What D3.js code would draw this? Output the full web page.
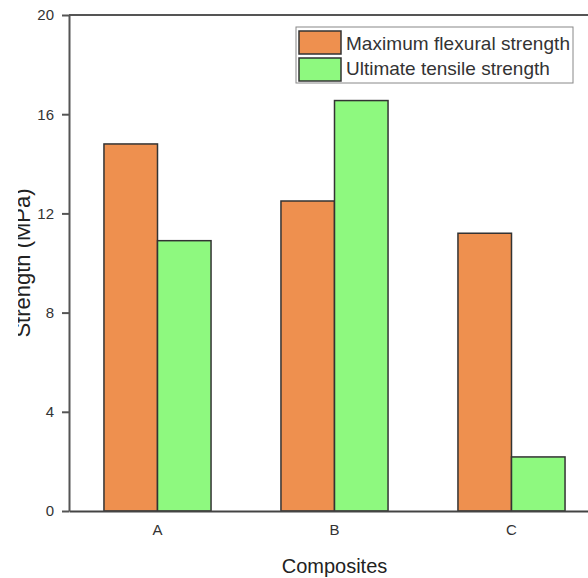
<!DOCTYPE html>
<html>
<head>
<meta charset="utf-8">
<script src="https://cdn.jsdelivr.net/npm/d3@7"></script>
<style>
  body { margin: 0; background: #fff; }
  svg { display: block; font-family: 'Liberation Sans', Arial, sans-serif; }
</style>
</head>
<body>
<div id="chart"></div>
<script>
const categories = ['A', 'B', 'C'];
const seriesNames = ['Maximum flexural strength', 'Ultimate tensile strength'];
const flexural = [14.8, 12.5, 11.2];
const tensile = [10.9, 16.55, 2.18];
const yTicks = [0, 4, 8, 12, 16, 20];
const colors = ['#ee904f', '#8ef97f'];

const width = 588;
const height = 578;
const margin = { top: 15, left: 69, bottom: 67, right: -12 };
const iwidth = width - margin.left - margin.right;
const iheight = height - margin.top - margin.bottom;
const font = "'Liberation Sans', Arial, sans-serif";

const svg = d3.select('#chart').append('svg')
  .attr('width', width)
  .attr('height', height);

// the original picture is cropped on the left, cutting the y title
svg.append('clipPath').attr('id', 'leftcut')
  .append('rect').attr('x', 18).attr('y', 0).attr('width', width).attr('height', height);

const g = svg.append('g')
  .attr('transform', `translate(${margin.left},${margin.top})`);

const x = d3.scaleBand()
  .domain(categories)
  .range([0, iwidth])
  .paddingInner(0.395)
  .paddingOuter(0.1975);

const xs = d3.scaleBand()
  .domain([0, 1])
  .range([0, x.bandwidth()]);

const y = d3.scaleLinear()
  .domain([0, 20])
  .range([iheight, 0]);

const rows = categories.map((c, i) => ({ cat: c, values: [flexural[i], tensile[i]] }));

const groups = g.selectAll('.grp').data(rows).enter().append('g')
  .attr('transform', (d) => `translate(${x(d.cat)},0)`);

groups.selectAll('rect')
  .data((d) => d.values.map((v, k) => ({ v, k })))
  .enter().append('rect')
  .attr('x', (d) => xs(d.k))
  .attr('y', (d) => y(d.v))
  .attr('width', xs.bandwidth())
  .attr('height', (d) => iheight - y(d.v))
  .style('fill', (d) => colors[d.k])
  .style('stroke', '#333')
  .style('stroke-width', 1.5);

// top frame line
g.append('line')
  .attr('x1', 0).attr('x2', iwidth)
  .attr('y1', 0).attr('y2', 0)
  .style('stroke', '#555').style('stroke-width', 2);

const xAxis = g.append('g')
  .attr('transform', `translate(0,${iheight})`)
  .call(d3.axisBottom(x).tickSize(0).tickPadding(13));
xAxis.select('.domain').style('stroke', '#444').style('stroke-width', 2);
xAxis.selectAll('text').style('font-size', '15px').style('fill', '#333')
  .style('font-family', font);

const yAxis = g.append('g')
  .call(d3.axisLeft(y).tickValues(yTicks).tickSize(7).tickPadding(8).tickSizeOuter(0));
yAxis.select('.domain').style('stroke', '#555').style('stroke-width', 2);
yAxis.selectAll('.tick line').style('stroke', '#555').style('stroke-width', 2);
yAxis.selectAll('text').style('font-size', '15px').style('fill', '#333')
  .style('font-family', font);

svg.append('text')
  .attr('x', margin.left + x('B') + x.bandwidth() / 2)
  .attr('y', 573)
  .attr('text-anchor', 'middle')
  .style('font-size', '20px')
  .style('fill', '#222')
  .text('Composites');

svg.append('g').attr('clip-path', 'url(#leftcut)')
  .append('text')
  .attr('transform', `translate(30,${margin.top + iheight / 2}) rotate(-90)`)
  .attr('text-anchor', 'middle')
  .style('font-size', '22px')
  .style('fill', '#222')
  .text('Strength (MPa)');

// legend
const legend = svg.append('g').attr('transform', 'translate(296,27)');
legend.append('rect')
  .attr('width', 277).attr('height', 56)
  .style('fill', '#fff').style('stroke', '#888').style('stroke-width', 1);
seriesNames.forEach((name, i) => {
  legend.append('rect')
    .attr('x', 3).attr('y', 4 + i * 27)
    .attr('width', 42).attr('height', 23)
    .style('fill', colors[i]).style('stroke', '#333').style('stroke-width', 1.5);
  legend.append('text')
    .attr('x', 50).attr('y', 23 + i * 25)
    .style('font-size', '19px')
    .style('fill', '#333')
    .attr('textLength', i === 0 ? 224 : null)
    .text(name);
});
</script>
</body>
</html>
